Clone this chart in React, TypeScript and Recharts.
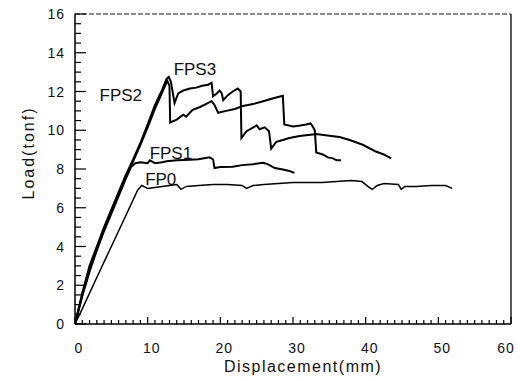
import { LineChart, Line, XAxis, YAxis, ReferenceLine, ReferenceDot } from 'recharts'

// load-displacement curves, [displacement mm, load tonf]
const fp0 = [
  [0, 0], [1, 0.78], [3, 2.4], [5, 4.0], [7, 5.6], [8.6, 6.9], [9.2, 7.15], [10, 7.0], [11, 7.05],
  [12, 7.1], [13, 7.15], [14, 7.2], [14.6, 6.95], [15.3, 7.1], [17, 7.15], [19, 7.2], [21, 7.2],
  [23, 7.15], [23.6, 7.0], [24.5, 7.15], [26, 7.2], [28, 7.25], [30, 7.3], [32, 7.3], [34, 7.3],
  [36, 7.35], [38, 7.4], [39.5, 7.35], [40.3, 7.1], [40.9, 6.95], [41.6, 7.15], [42.5, 7.25],
  [44.5, 7.2], [44.9, 6.95], [45.4, 7.1], [47, 7.1], [49, 7.15], [51, 7.15], [51.9, 7.0],
]
const fps1 = [
  [0, 0], [1, 1.45], [2, 2.7], [3, 3.8], [4, 4.8], [5, 5.7], [6, 6.6], [7, 7.5], [7.7, 8.1],
  [8.3, 8.3], [9, 8.35], [10, 8.3], [10.3, 8.45], [11, 8.3], [12, 8.35], [12.6, 8.4], [14, 8.45],
  [15.8, 8.48], [17, 8.5], [18.5, 8.6], [19.0, 8.5], [19.2, 8.05], [20, 8.1], [21.7, 8.12],
  [23, 8.2], [24.5, 8.25], [25.9, 8.32], [26.5, 8.25], [27.5, 8.05], [28.6, 7.97], [29.5, 7.9],
  [30.2, 7.8],
]
const fps2 = [
  [0, 0], [1, 1.5], [2, 2.8], [3, 3.9], [4, 4.9], [5, 5.8], [6, 6.7], [7, 7.6], [8, 8.4],
  [9, 9.25], [10, 10.15], [11, 11.1], [12, 11.95], [12.7, 12.55], [13.0, 12.3], [13.1, 10.4],
  [14.0, 10.55], [14.9, 10.8], [15.3, 10.7], [15.8, 10.9], [16.2, 11.05], [17.2, 11.2],
  [18.0, 11.35], [18.8, 11.5], [19.2, 11.3], [19.7, 10.9], [20.8, 11.0], [22, 11.1],
  [23.1, 11.25], [24.5, 11.35], [25.9, 11.5], [27.3, 11.65], [28.6, 11.78], [28.8, 10.3],
  [30, 10.2], [31, 10.25], [31.8, 10.3], [32.4, 10.35], [32.7, 10.2], [33.0, 10.0], [33.2, 8.85],
  [34.1, 8.75], [34.8, 8.6], [35.5, 8.55], [36.0, 8.45], [36.6, 8.45],
]
const fps3 = [
  [0, 0], [1, 1.6], [2, 3.0], [3, 4.0], [4, 5.0], [5, 5.9], [6, 6.8], [7, 7.7], [8, 8.5],
  [9, 9.35], [10, 10.3], [11, 11.3], [12, 12.1], [12.6, 12.65], [12.9, 12.75], [13.2, 12.5],
  [13.7, 11.4], [14.2, 11.9], [14.9, 12.05], [15.8, 12.15], [16.7, 12.2], [17.5, 12.3],
  [18.3, 12.35], [18.8, 12.45], [19.0, 11.75], [19.5, 11.9], [19.9, 12.05], [20.2, 11.9],
  [20.4, 11.55], [21, 11.8], [21.7, 12.0], [22.4, 12.15], [22.8, 12.0], [22.9, 9.6],
  [23.6, 9.95], [24.3, 10.1], [25, 10.25], [25.4, 10.05], [26.1, 10.15], [26.7, 9.95],
  [27.0, 9.05], [27.7, 9.4], [28.6, 9.5], [29.5, 9.6], [30.9, 9.7], [32.7, 9.78], [33.2, 9.8],
  [35, 9.72], [36.4, 9.65], [37.8, 9.5], [39.6, 9.25], [41.4, 8.9], [42.5, 8.75], [43.5, 8.55],
]

const curveNames = ['FP0', 'FPS1', 'FPS2', 'FPS3']
// where each curve name is written, in data units
const nameX = [11.8, 13.2, 6.3, 16.5]
const nameY = [7.48, 8.83, 11.8, 13.16]

const xMajor = [0, 10, 20, 30, 40, 50, 60]
const yMajor = [0, 2, 4, 6, 8, 10, 12, 14, 16]
const xMinorTicks = Array.from({ length: 61 }, (_, i) => i)
const yMinorTicks = Array.from({ length: 33 }, (_, i) => i / 2)

const toPts = (a: number[][]) => a.map(([x, y]) => ({ x, y }))
const series = [fp0, fps1, fps2, fps3].map(toPts)

const font = '"Liberation Sans", Arial, sans-serif'

function XTick({ x, y, payload }: any) {
  const v = payload.value
  const major = xMajor.includes(v)
  return (
    <g>
      <line x1={x} x2={x} y1={y} y2={y - (major ? 7 : 4)} stroke="#000" strokeWidth={1.2} />
      {major && (
        <text x={x + (v === 60 ? -5 : 4)} y={y + 24} textAnchor="middle" dominantBaseline="central"
          fontSize={14} letterSpacing={1} fontFamily={font} fill="#111">
          {v}
        </text>
      )}
    </g>
  )
}

function YTick({ x, y, payload }: any) {
  const v = payload.value
  const major = yMajor.includes(v)
  return (
    <g>
      <line x1={x} x2={x + (major ? 11 : 6)} y1={y} y2={y} stroke="#000" strokeWidth={1.2} />
      {major && (
        <text x={x - 10} y={y} textAnchor="end" dominantBaseline="central"
          fontSize={14} letterSpacing={1} fontFamily={font} fill="#111">
          {v}
        </text>
      )}
    </g>
  )
}

export default function App() {
  return (
    <div style={{ position: 'absolute', left: 0, top: 0, background: '#fff' }}>
      <LineChart width={520} height={381} margin={{ top: 14, right: 9, left: 0, bottom: 0 }}>
        <XAxis
          type="number"
          dataKey="x"
          domain={[0, 60]}
          ticks={xMinorTicks}
          interval={0}
          tickSize={0}
          tickMargin={0}
          tickLine={false}
          tick={<XTick />}
          axisLine={{ stroke: '#000', strokeWidth: 1.5 }}
          height={57}
          label={{
            content: () => (
              <text x={303} y={366} textAnchor="middle" dominantBaseline="central"
                fontSize={16} letterSpacing={1.5} fontFamily={font} fill="#111">
                Displacement(mm)
              </text>
            ),
          }}
        />
        <YAxis
          type="number"
          domain={[0, 16]}
          ticks={yMinorTicks}
          interval={0}
          tickSize={0}
          tickMargin={0}
          tickLine={false}
          tick={<YTick />}
          axisLine={{ stroke: '#000', strokeWidth: 1.5 }}
          width={75}
          label={{
            content: () => (
              <text x={28} y={153} transform="rotate(-90 28 153)" textAnchor="middle"
                dominantBaseline="central" fontSize={16} letterSpacing={2} fontFamily={font} fill="#111">
                Load(tonf)
              </text>
            ),
          }}
        />
        <ReferenceLine y={16} stroke="#666" strokeDasharray="5 2" strokeWidth={1.5} />
        <ReferenceLine x={60} stroke="#222" strokeWidth={1.5} />
        {series.map((d, i) => (
          <Line
            key={curveNames[i]}
            data={d}
            dataKey="y"
            type="linear"
            stroke="#000"
            strokeWidth={i === 0 ? 1.5 : 2}
            dot={false}
            isAnimationActive={false}
          />
        ))}
        {curveNames.map((n, i) => (
          <ReferenceDot
            key={n}
            x={nameX[i]}
            y={nameY[i]}
            r={0}
            fill="none"
            stroke="none"
            label={{ value: n, position: 'center', fontSize: 17, fontFamily: font, fill: '#111' }}
          />
        ))}
      </LineChart>
    </div>
  )
}
